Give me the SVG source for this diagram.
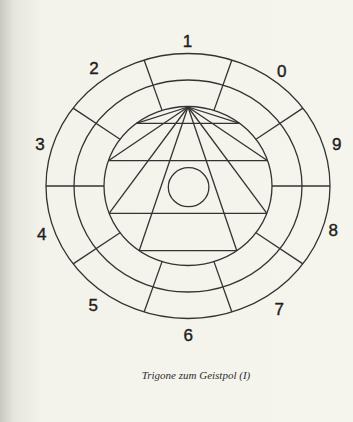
<svg xmlns="http://www.w3.org/2000/svg" width="353" height="422" viewBox="0 0 353 422">
<defs>
<linearGradient id="paper" x1="0" y1="0" x2="1" y2="0">
<stop offset="0" stop-color="#c9c8c0"/>
<stop offset="0.04" stop-color="#e6e5de"/>
<stop offset="0.12" stop-color="#f3f2eb"/>
<stop offset="1" stop-color="#f5f4ed"/>
</linearGradient>
</defs>
<style>
.ln{fill:none;stroke:#333;stroke-width:1.3}
.num{font-family:"Liberation Sans",Arial,sans-serif;font-size:17px;fill:#1e1e1e;stroke:#1e1e1e;stroke-width:0.4;text-anchor:middle}
.cap{font-family:"Liberation Serif","Times New Roman",serif;font-style:italic;font-size:11px;fill:#2e2e2e;text-anchor:middle}
</style>
<rect width="353" height="422" fill="url(#paper)"/>
<g id="rings">
<ellipse class="ln" cx="188" cy="186" rx="142" ry="132.5"/>
<ellipse class="ln" cx="188" cy="186" rx="114" ry="106"/>
<ellipse class="ln" cx="188" cy="186" rx="84" ry="79.5"/>
</g>
<g id="connectors">
<g id="radials">
<line class="ln" x1="272" y1="186" x2="330" y2="186"/>
<line class="ln" x1="255.96" y1="139.27" x2="302.88" y2="108.12"/>
<line class="ln" x1="213.96" y1="110.39" x2="231.88" y2="59.98"/>
<line class="ln" x1="162.04" y1="110.39" x2="144.12" y2="59.98"/>
<line class="ln" x1="120.04" y1="139.27" x2="73.12" y2="108.12"/>
<line class="ln" x1="104" y1="186" x2="46" y2="186"/>
<line class="ln" x1="120.04" y1="232.73" x2="73.12" y2="263.88"/>
<line class="ln" x1="162.04" y1="261.61" x2="144.12" y2="312.02"/>
<line class="ln" x1="213.96" y1="261.61" x2="231.88" y2="312.02"/>
<line class="ln" x1="255.96" y1="232.73" x2="302.88" y2="263.88"/>
</g>
<g id="trigones">
<line class="ln" x1="188" y1="107" x2="136.4" y2="123.3"/>
<line class="ln" x1="188" y1="107" x2="239.6" y2="123.3"/>
<line class="ln" x1="188" y1="107" x2="108.4" y2="160.7"/>
<line class="ln" x1="188" y1="107" x2="267.6" y2="160.7"/>
<line class="ln" x1="188" y1="107" x2="109.1" y2="213.3"/>
<line class="ln" x1="188" y1="107" x2="266.9" y2="213.3"/>
<line class="ln" x1="188" y1="107" x2="139.2" y2="250.7"/>
<line class="ln" x1="188" y1="107" x2="236.8" y2="250.7"/>
<line class="ln" x1="136.4" y1="123.3" x2="239.6" y2="123.3"/>
<line class="ln" x1="108.4" y1="160.7" x2="267.6" y2="160.7"/>
<line class="ln" x1="109.1" y1="213.3" x2="266.9" y2="213.3"/>
<line class="ln" x1="139.2" y1="250.7" x2="236.8" y2="250.7"/>
</g>
</g>
<g id="pole">
<ellipse class="ln" cx="188.6" cy="187.2" rx="20.3" ry="19.5"/>
</g>
<g id="labels">
<text class="num" x="187.5" y="47">1</text>
<text class="num" x="281.7" y="76.8">0</text>
<text class="num" x="336.7" y="150.2">9</text>
<text class="num" x="333.3" y="236.2">8</text>
<text class="num" x="279.3" y="314.5">7</text>
<text class="num" x="188.3" y="341.2">6</text>
<text class="num" x="93.3" y="311.2">5</text>
<text class="num" x="41.7" y="239.5">4</text>
<text class="num" x="40" y="149.5">3</text>
<text class="num" x="94" y="73.5">2</text>
</g>
<text class="cap" x="196" y="378.5">Trigone zum Geistpol (I)</text>
</svg>
